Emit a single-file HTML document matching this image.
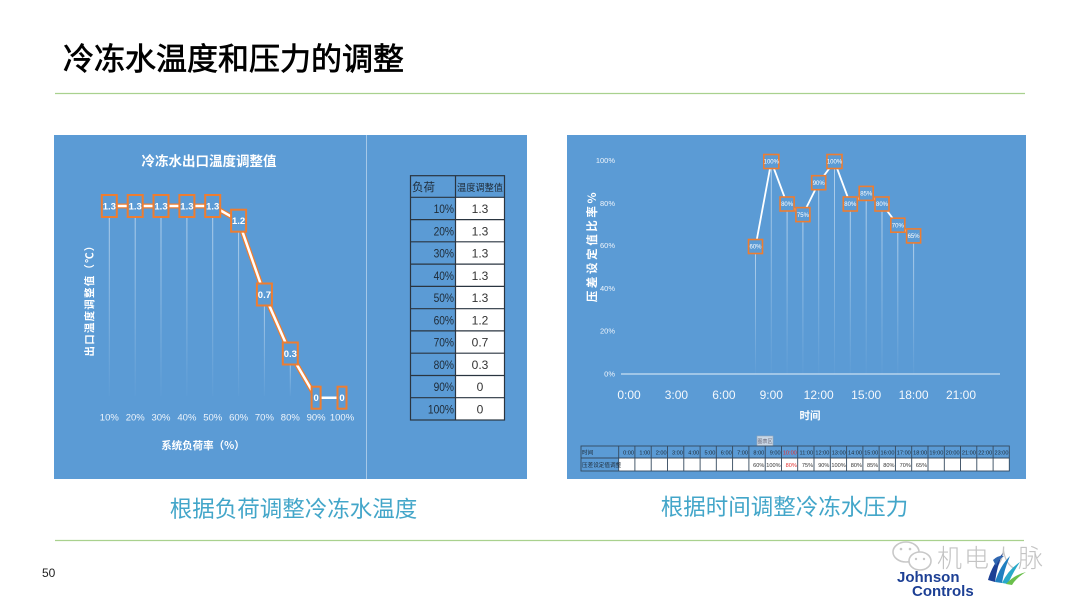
<!DOCTYPE html>
<html><head><meta charset="utf-8">
<style>
html,body{margin:0;padding:0;background:#fff;}
body{width:1080px;height:608px;overflow:hidden;}
svg{display:block;}
</style></head>
<body>
<svg width="1080" height="608" viewBox="0 0 1080 608" xmlns="http://www.w3.org/2000/svg" font-family="'Liberation Sans','Noto Sans CJK SC',sans-serif">
<defs>
<linearGradient id="fade" x1="0" y1="0" x2="0" y2="1">
<stop offset="0" stop-color="#fff" stop-opacity="0.55"/>
<stop offset="1" stop-color="#fff" stop-opacity="0.02"/>
</linearGradient>
</defs>

<!-- Title -->
<text x="63" y="70" font-size="31" font-family="'WenQuanYi Zen Hei','Noto Sans CJK SC',sans-serif" fill="#000" stroke="#000" stroke-width="0.7">冷冻水温度和压力的调整</text>
<line x1="55" y1="93.5" x2="1025" y2="93.5" stroke="#a9d18e" stroke-width="1.2"/>

<!-- LEFT PANEL -->
<rect x="54" y="135" width="473" height="344" fill="#5b9bd5"/>
<line x1="366.5" y1="135" x2="366.5" y2="479" stroke="#ffffff" stroke-opacity="0.45" stroke-width="1"/>
<text x="209" y="166" font-size="13.5" font-weight="bold" fill="#fff" text-anchor="middle" font-family="'Noto Sans CJK SC',sans-serif">冷冻水出口温度调整值</text>

<!-- drop lines -->
<g fill="url(#fade)">
<rect x="108.8" y="206" width="1" height="190"/>
<rect x="134.7" y="206" width="1" height="190"/>
<rect x="160.5" y="206" width="1" height="190"/>
<rect x="186.4" y="206" width="1" height="190"/>
<rect x="212.2" y="206" width="1" height="190"/>
<rect x="238.1" y="221" width="1" height="175"/>
<rect x="263.9" y="294" width="1" height="102"/>
<rect x="289.8" y="353" width="1" height="43"/>
</g>
<polyline points="109.3,206 135.2,206 161,206 186.9,206 212.7,206 238.6,220.7 264.4,294.5 290.3,353.5 316.1,397.7" fill="none" stroke="#ed7d31" stroke-width="5" stroke-linejoin="round"/>
<polyline points="109.3,206 135.2,206 161,206 186.9,206 212.7,206 238.6,220.7 264.4,294.5 290.3,353.5 316.1,397.7 342,397.7" fill="none" stroke="#fff" stroke-width="2.5" stroke-linejoin="round"/>
<g stroke="#ed7d31" stroke-width="2" fill="#5b9bd5">
<rect x="101.8" y="195" width="15" height="22"/>
<rect x="127.7" y="195" width="15" height="22"/>
<rect x="153.5" y="195" width="15" height="22"/>
<rect x="179.4" y="195" width="15" height="22"/>
<rect x="205.2" y="195" width="15" height="22"/>
<rect x="231.1" y="209.7" width="15" height="22"/>
<rect x="256.9" y="283.5" width="15" height="22"/>
<rect x="282.8" y="342.5" width="15" height="22"/>
<rect x="311.6" y="386.7" width="9" height="22"/>
<rect x="337.5" y="386.7" width="9" height="22"/>
</g>
<g fill="#fff" font-size="9.5" font-weight="bold" text-anchor="middle">
<text x="109.3" y="209.5">1.3</text>
<text x="135.2" y="209.5">1.3</text>
<text x="161" y="209.5">1.3</text>
<text x="186.9" y="209.5">1.3</text>
<text x="212.7" y="209.5">1.3</text>
<text x="238.6" y="224.2">1.2</text>
<text x="264.4" y="298">0.7</text>
<text x="290.3" y="357">0.3</text>
<text x="316.1" y="401.2">0</text>
<text x="342" y="401.2">0</text>
</g>
<g fill="#eef4fb" font-size="9.5" text-anchor="middle">
<text x="109.3" y="420.5">10%</text>
<text x="135.2" y="420.5">20%</text>
<text x="161" y="420.5">30%</text>
<text x="186.9" y="420.5">40%</text>
<text x="212.7" y="420.5">50%</text>
<text x="238.6" y="420.5">60%</text>
<text x="264.4" y="420.5">70%</text>
<text x="290.3" y="420.5">80%</text>
<text x="316.1" y="420.5">90%</text>
<text x="342" y="420.5">100%</text>
</g>
<text x="203" y="449" font-size="10.5" font-weight="bold" fill="#fff" text-anchor="middle" font-family="'Noto Sans CJK SC',sans-serif">系统负荷率（%）</text>
<text transform="translate(93,298) rotate(-90)" font-size="10.5" font-weight="bold" fill="#fff" text-anchor="middle" letter-spacing="1.2" font-family="'Noto Sans CJK SC',sans-serif">出口温度调整值（℃）</text>

<!-- left table -->
<g>
<rect x="410.5" y="175.7" width="94" height="21.6" fill="#5b9bd5"/>
<rect x="410.5" y="197.3" width="45" height="222.7" fill="#5b9bd5"/>
<rect x="455.5" y="197.3" width="49" height="222.7" fill="#fff"/>
<g stroke="#2a3540" stroke-width="1.2" fill="none">
<rect x="410.5" y="175.7" width="94" height="244.3"/>
<line x1="455.5" y1="175.7" x2="455.5" y2="420"/>
<line x1="410.5" y1="197.3" x2="504.5" y2="197.3"/>
<line x1="410.5" y1="219.6" x2="504.5" y2="219.6"/>
<line x1="410.5" y1="241.8" x2="504.5" y2="241.8"/>
<line x1="410.5" y1="264.1" x2="504.5" y2="264.1"/>
<line x1="410.5" y1="286.4" x2="504.5" y2="286.4"/>
<line x1="410.5" y1="308.7" x2="504.5" y2="308.7"/>
<line x1="410.5" y1="330.9" x2="504.5" y2="330.9"/>
<line x1="410.5" y1="353.2" x2="504.5" y2="353.2"/>
<line x1="410.5" y1="375.5" x2="504.5" y2="375.5"/>
<line x1="410.5" y1="397.7" x2="504.5" y2="397.7"/>
</g>
<g font-size="11.5" fill="#1e2a36" font-family="'Noto Sans CJK SC',sans-serif">
<text x="412" y="191">负荷</text>
<text x="457" y="191" font-size="9.5" textLength="46" lengthAdjust="spacingAndGlyphs">温度调整值</text>
</g>
<g font-size="12" fill="#1e2a36" text-anchor="end">
<text x="454" y="213" transform="translate(454,0) scale(0.85,1) translate(-454,0)">10%</text>
<text x="454" y="235.3" transform="translate(454,0) scale(0.85,1) translate(-454,0)">20%</text>
<text x="454" y="257.5" transform="translate(454,0) scale(0.85,1) translate(-454,0)">30%</text>
<text x="454" y="279.8" transform="translate(454,0) scale(0.85,1) translate(-454,0)">40%</text>
<text x="454" y="302.1" transform="translate(454,0) scale(0.85,1) translate(-454,0)">50%</text>
<text x="454" y="324.3" transform="translate(454,0) scale(0.85,1) translate(-454,0)">60%</text>
<text x="454" y="346.6" transform="translate(454,0) scale(0.85,1) translate(-454,0)">70%</text>
<text x="454" y="368.9" transform="translate(454,0) scale(0.85,1) translate(-454,0)">80%</text>
<text x="454" y="391.1" transform="translate(454,0) scale(0.85,1) translate(-454,0)">90%</text>
<text x="454" y="413.4" transform="translate(454,0) scale(0.85,1) translate(-454,0)">100%</text>
</g>
<g font-size="12" fill="#333" text-anchor="middle">
<text x="480" y="213">1.3</text>
<text x="480" y="235.3">1.3</text>
<text x="480" y="257.5">1.3</text>
<text x="480" y="279.8">1.3</text>
<text x="480" y="302.1">1.3</text>
<text x="480" y="324.3">1.2</text>
<text x="480" y="346.6">0.7</text>
<text x="480" y="368.9">0.3</text>
<text x="480" y="391.1">0</text>
<text x="480" y="413.4">0</text>
</g>
</g>

<!-- RIGHT PANEL -->
<rect x="567" y="135" width="459" height="344" fill="#5b9bd5"/>
<g fill="#eef4fb" font-size="7.5" text-anchor="end">
<text x="615" y="163">100%</text>
<text x="615" y="206">80%</text>
<text x="615" y="248">60%</text>
<text x="615" y="291">40%</text>
<text x="615" y="333.5">20%</text>
<text x="615" y="376.5">0%</text>
</g>
<text transform="translate(596,246) rotate(-90)" font-size="11.5" font-weight="bold" fill="#fff" text-anchor="middle" letter-spacing="2.6" font-family="'Noto Sans CJK SC',sans-serif">压差设定值比率%</text>
<line x1="621" y1="374" x2="1000" y2="374" stroke="#fff" stroke-opacity="0.85" stroke-width="1"/>
<g fill="url(#fade)">
<rect x="755" y="246.5" width="1" height="127"/>
<rect x="770.8" y="161.5" width="1" height="212"/>
<rect x="786.6" y="204" width="1" height="170"/>
<rect x="802.4" y="214.6" width="1" height="159"/>
<rect x="818.2" y="182.7" width="1" height="191"/>
<rect x="834" y="161.5" width="1" height="212"/>
<rect x="849.8" y="204" width="1" height="170"/>
<rect x="865.7" y="193.4" width="1" height="180"/>
<rect x="881.5" y="204" width="1" height="170"/>
<rect x="897.3" y="225.2" width="1" height="149"/>
<rect x="913.1" y="235.9" width="1" height="138"/>
</g>
<polyline points="755.5,246.5 771.3,161.5 787.1,204 802.9,214.6 818.7,182.7 834.5,161.5 850.3,204 866.2,193.4 882,204 897.8,225.2 913.6,235.9" fill="none" stroke="#fff" stroke-width="1.8" stroke-linejoin="round"/>
<g stroke="#ed7d31" stroke-width="1.6" fill="#5b9bd5">
<rect x="748.5" y="239.5" width="14" height="14"/>
<rect x="763.8" y="154.5" width="15" height="14"/>
<rect x="780.1" y="197" width="14" height="14"/>
<rect x="795.9" y="207.6" width="14" height="14"/>
<rect x="811.7" y="175.7" width="14" height="14"/>
<rect x="827" y="154.5" width="15" height="14"/>
<rect x="843.3" y="197" width="14" height="14"/>
<rect x="859.2" y="186.4" width="14" height="14"/>
<rect x="875" y="197" width="14" height="14"/>
<rect x="890.8" y="218.2" width="14" height="14"/>
<rect x="906.6" y="228.9" width="14" height="14"/>
</g>
<g fill="#fff" font-size="6" text-anchor="middle">
<text x="755.5" y="248.7">60%</text>
<text x="771.3" y="163.7">100%</text>
<text x="787.1" y="206.2">80%</text>
<text x="802.9" y="216.8">75%</text>
<text x="818.7" y="184.9">90%</text>
<text x="834.5" y="163.7">100%</text>
<text x="850.3" y="206.2">80%</text>
<text x="866.2" y="195.6">85%</text>
<text x="882" y="206.2">80%</text>
<text x="897.8" y="227.4">70%</text>
<text x="913.6" y="238.1">65%</text>
</g>
<g fill="#f4f8fc" font-size="12" text-anchor="middle">
<text x="629" y="399">0:00</text>
<text x="676.4" y="399">3:00</text>
<text x="723.9" y="399">6:00</text>
<text x="771.3" y="399">9:00</text>
<text x="818.7" y="399">12:00</text>
<text x="866.2" y="399">15:00</text>
<text x="913.6" y="399">18:00</text>
<text x="961" y="399">21:00</text>
</g>
<text x="810" y="419" font-size="10.5" font-weight="bold" fill="#fff" text-anchor="middle" font-family="'Noto Sans CJK SC',sans-serif">时间</text>

<!-- tooltip -->
<rect x="757" y="436" width="16" height="10" fill="#c9d7e6" stroke="#9aa8b6" stroke-width="0.6"/>
<text x="765" y="443" font-size="5" fill="#667" text-anchor="middle" font-family="'Noto Sans CJK SC',sans-serif">图表区</text>

<!-- bottom table -->
<rect x="618.7" y="458" width="390.6" height="13" fill="#fff"/>
<g stroke="#34495e" stroke-width="0.9" fill="none">
<rect x="581" y="446" width="428.3" height="25"/>
<line x1="581" y1="458" x2="1009.3" y2="458"/>
<line x1="618.7" y1="446" x2="618.7" y2="471"/>
<line x1="634.9" y1="446" x2="634.9" y2="471"/>
<line x1="651.2" y1="446" x2="651.2" y2="471"/>
<line x1="667.5" y1="446" x2="667.5" y2="471"/>
<line x1="683.8" y1="446" x2="683.8" y2="471"/>
<line x1="700.1" y1="446" x2="700.1" y2="471"/>
<line x1="716.3" y1="446" x2="716.3" y2="471"/>
<line x1="732.6" y1="446" x2="732.6" y2="471"/>
<line x1="748.9" y1="446" x2="748.9" y2="471"/>
<line x1="765.2" y1="446" x2="765.2" y2="471"/>
<line x1="781.5" y1="446" x2="781.5" y2="471"/>
<line x1="797.7" y1="446" x2="797.7" y2="471"/>
<line x1="814" y1="446" x2="814" y2="471"/>
<line x1="830.3" y1="446" x2="830.3" y2="471"/>
<line x1="846.6" y1="446" x2="846.6" y2="471"/>
<line x1="862.9" y1="446" x2="862.9" y2="471"/>
<line x1="879.1" y1="446" x2="879.1" y2="471"/>
<line x1="895.4" y1="446" x2="895.4" y2="471"/>
<line x1="911.7" y1="446" x2="911.7" y2="471"/>
<line x1="928" y1="446" x2="928" y2="471"/>
<line x1="944.3" y1="446" x2="944.3" y2="471"/>
<line x1="960.5" y1="446" x2="960.5" y2="471"/>
<line x1="976.8" y1="446" x2="976.8" y2="471"/>
<line x1="993.1" y1="446" x2="993.1" y2="471"/>
</g>
<g font-size="5.6" fill="#1e2a36" font-family="'Noto Sans CJK SC',sans-serif">
<text x="582" y="454.5">时间</text>
<text x="582" y="467">压差设定值调整</text>
</g>
<g font-size="5.6" fill="#1e2a36" text-anchor="end">
<text x="634" y="454.5">0:00</text>
<text x="650.3" y="454.5">1:00</text>
<text x="666.6" y="454.5">2:00</text>
<text x="682.9" y="454.5">3:00</text>
<text x="699.2" y="454.5">4:00</text>
<text x="715.4" y="454.5">5:00</text>
<text x="731.7" y="454.5">6:00</text>
<text x="748" y="454.5">7:00</text>
<text x="764.3" y="454.5">8:00</text>
<text x="780.6" y="454.5">9:00</text>
<text x="796.8" y="454.5" fill="#e03030">10:00</text>
<text x="813.1" y="454.5">11:00</text>
<text x="829.4" y="454.5">12:00</text>
<text x="845.7" y="454.5">13:00</text>
<text x="862" y="454.5">14:00</text>
<text x="878.2" y="454.5">15:00</text>
<text x="894.5" y="454.5">16:00</text>
<text x="910.8" y="454.5">17:00</text>
<text x="927.1" y="454.5">18:00</text>
<text x="943.4" y="454.5">19:00</text>
<text x="959.6" y="454.5">20:00</text>
<text x="975.9" y="454.5">21:00</text>
<text x="992.2" y="454.5">22:00</text>
<text x="1008.5" y="454.5">23:00</text>
</g>
<g font-size="5.6" fill="#333" text-anchor="end">
<text x="764.3" y="467">60%</text>
<text x="780.6" y="467">100%</text>
<text x="796.8" y="467" fill="#e03030">80%</text>
<text x="813.1" y="467">75%</text>
<text x="829.4" y="467">90%</text>
<text x="845.7" y="467">100%</text>
<text x="862" y="467">80%</text>
<text x="878.2" y="467">85%</text>
<text x="894.5" y="467">80%</text>
<text x="910.8" y="467">70%</text>
<text x="927.1" y="467">65%</text>
</g>

<!-- captions -->
<text x="293.5" y="517" font-size="22.5" fill="#43a6c9" text-anchor="middle" font-family="'Noto Sans CJK SC',sans-serif">根据负荷调整冷冻水温度</text>
<text x="784.5" y="515" font-size="22.5" fill="#43a6c9" text-anchor="middle" font-family="'Noto Sans CJK SC',sans-serif">根据时间调整冷冻水压力</text>

<line x1="55" y1="540.5" x2="1024" y2="540.5" stroke="#a9d18e" stroke-width="1.2"/>
<text x="42" y="577" font-size="12" fill="#222">50</text>

<!-- watermark -->
<g fill="none" stroke="#c8c8c8" stroke-width="1.6">
<ellipse cx="906" cy="552" rx="13" ry="10"/>
<ellipse cx="920" cy="561" rx="11" ry="9" fill="#fff"/>
</g>
<g fill="#c8c8c8">
<circle cx="901" cy="549" r="1.3"/><circle cx="910" cy="549" r="1.3"/>
<circle cx="916" cy="559" r="1.2"/><circle cx="924" cy="559" r="1.2"/>
</g>
<text x="937" y="567" font-size="25" fill="#c4c4c4" font-family="'Noto Sans CJK SC',sans-serif" font-weight="300" letter-spacing="2">机电人脉</text>

<!-- Johnson Controls logo -->
<g>
<path d="M988,580 Q992,565 1003,553 Q997,566 995,582 Z" fill="#1c3f94"/>
<path d="M995,582 Q1000,566 1010,556 Q1004,570 1002,583 Z" fill="#1f7fc0"/>
<path d="M1002,583 Q1008,570 1020,562 Q1012,574 1008,584 Z" fill="#28a9c9"/>
<path d="M1006,584 Q1014,575 1026,572 Q1016,578 1012,585 Z" fill="#6abf4b"/>
<path d="M993,560 Q998,555 1004,556 Q998,560 996,566 Z" fill="#2f66b0"/>
</g>
<text x="897" y="582" font-size="15" font-weight="bold" fill="#1c3f94">Johnson</text>
<text x="912" y="596" font-size="15" font-weight="bold" fill="#1c3f94">Controls</text>
</svg>
</body></html>
